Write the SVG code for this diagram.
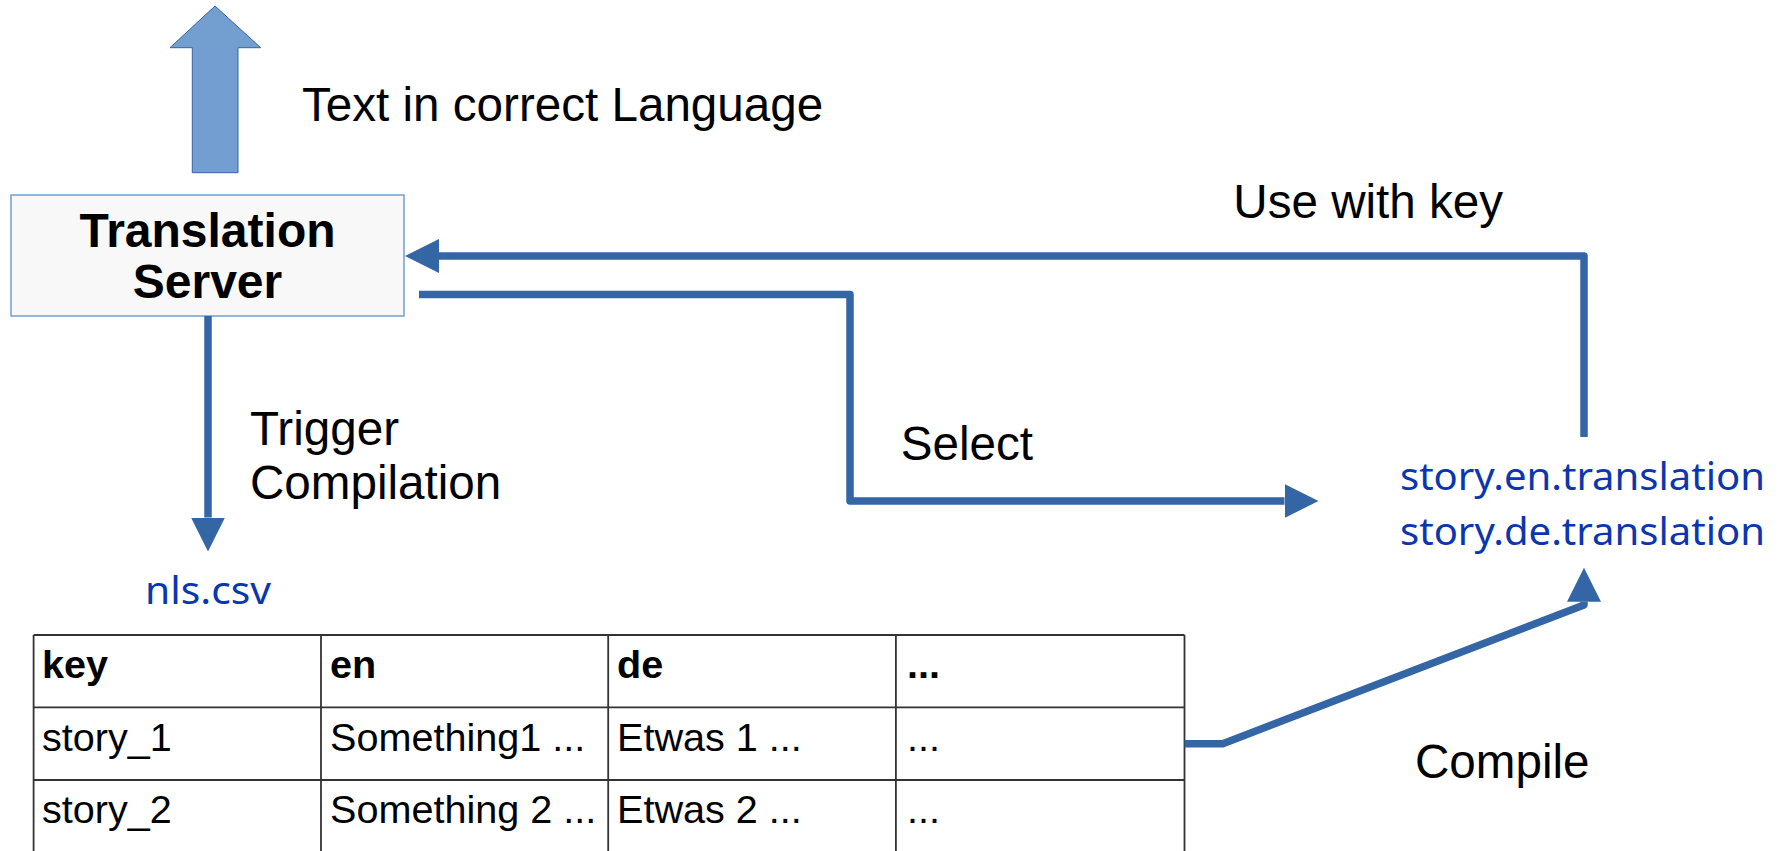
<svg xmlns="http://www.w3.org/2000/svg" width="1784" height="851" viewBox="0 0 1784 851">
<style>
.lbl{font-family:"Liberation Sans",Arial,sans-serif;font-size:47.6px;fill:#000}
.bold{font-weight:bold;font-size:48px}
.file{font-family:"Noto Sans","Open Sans",sans-serif;font-size:38px;fill:#0a36b0}
.cell{font-family:"Liberation Sans",Arial,sans-serif;font-size:39.6px;fill:#000}
.conn{fill:none;stroke:#3465a4;stroke-width:7.5;stroke-linejoin:round}
.grid{stroke:#333;stroke-width:1.8;fill:none}
</style>
<defs>
<marker id="ah" markerUnits="userSpaceOnUse" viewBox="0 0 34 34" markerWidth="34" markerHeight="34" refX="0" refY="17" orient="auto">
<path d="M0,0 L34,17 L0,34 z" fill="#3465a4"/>
</marker>
</defs>
<rect width="1784" height="851" fill="#fff"/>

<g id="output-arrow">
<polygon points="215,6 260.7,47.7 238,47.7 238,172.7 192.3,172.7 192.3,47.7 170,47.7" fill="#729fcf" stroke="#3465a4" stroke-width="1"/>
<text class="lbl" x="302" y="120.5">Text in correct Language</text>
</g>

<g id="translation-server">
<rect x="11" y="195" width="393" height="121" fill="#f8f8f8" stroke="#729fcf" stroke-width="1.5"/>
<text class="lbl bold" x="207.5" y="247" text-anchor="middle">Translation</text>
<text class="lbl bold" x="207.5" y="298" text-anchor="middle">Server</text>
</g>

<g id="translations">
<text class="file" x="1400" y="489.5" textLength="365" lengthAdjust="spacingAndGlyphs">story.en.translation</text>
<text class="file" x="1400" y="545" textLength="365" lengthAdjust="spacingAndGlyphs">story.de.translation</text>
</g>

<g id="nls-csv">
<text class="file" x="145" y="604" textLength="126" lengthAdjust="spacingAndGlyphs">nls.csv</text>
<g class="grid">
<line x1="33.6" y1="635" x2="1184.5" y2="635"/>
<line x1="33.6" y1="707.3" x2="1184.5" y2="707.3"/>
<line x1="33.6" y1="780" x2="1184.5" y2="780"/>
<line x1="33.6" y1="635" x2="33.6" y2="852"/>
<line x1="321" y1="635" x2="321" y2="852"/>
<line x1="608.2" y1="635" x2="608.2" y2="852"/>
<line x1="895.9" y1="635" x2="895.9" y2="852"/>
<line x1="1184.5" y1="635" x2="1184.5" y2="852"/>
</g>
<text class="cell" font-weight="bold" x="42" y="677.7">key</text>
<text class="cell" font-weight="bold" x="330" y="677.7">en</text>
<text class="cell" font-weight="bold" x="617" y="677.7">de</text>
<text class="cell" font-weight="bold" x="907" y="677.7">...</text>
<text class="cell" x="42" y="750.7">story_1</text>
<text class="cell" x="330" y="750.7">Something1 ...</text>
<text class="cell" x="617" y="750.7">Etwas 1 ...</text>
<text class="cell" x="907" y="750.7">...</text>
<text class="cell" x="42" y="823.3">story_2</text>
<text class="cell" x="330" y="823.3">Something 2 ...</text>
<text class="cell" x="617" y="823.3">Etwas 2 ...</text>
<text class="cell" x="907" y="823.3">...</text>
</g>

<g id="connectors">
<path class="conn" d="M1584,437 V256 H439" marker-end="url(#ah)"/>
<path class="conn" d="M419,294.5 H850 V501 H1284.5" marker-end="url(#ah)"/>
<path class="conn" d="M208,316 V517.5" marker-end="url(#ah)"/>
<path class="conn" d="M1184.5,743.7 H1222.8 L1584,605 V601.7" marker-end="url(#ah)"/>
<text class="lbl" x="1233.3" y="218.3">Use with key</text>
<text class="lbl" x="900.7" y="460">Select</text>
<text class="lbl" x="250" y="445">Trigger</text>
<text class="lbl" x="250" y="499">Compilation</text>
<text class="lbl" x="1415" y="778.3">Compile</text>
</g>
</svg>
